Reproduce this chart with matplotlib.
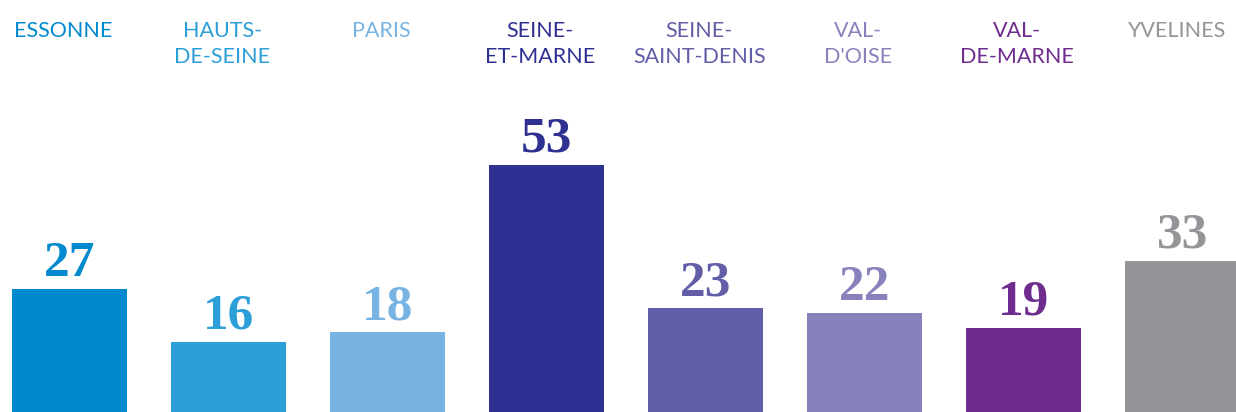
#!/usr/bin/env python3
"""departements_bars.py"""

import matplotlib.pyplot as plt
import numpy as np

departements = [
    "ESSONNE",
    "HAUTS-\nDE-SEINE",
    "PARIS",
    "SEINE-\nET-MARNE",
    "SEINE-\nSAINT-DENIS",
    "VAL-\nD'OISE",
    "VAL-\nDE-MARNE",
    "YVELINES",
]
valeurs = [27, 16, 18, 53, 23, 22, 19, 33]
couleurs = [
    "#0089cf",
    "#2d9fd8",
    "#78b4e3",
    "#2e3092",
    "#625ea8",
    "#8882bc",
    "#6f2c8f",
    "#939598",
]


def plot(ax: plt.Axes):
    x = np.arange(len(valeurs))
    ax.bar(x, valeurs, width=0.723, color=couleurs, zorder=2)

    for xi, v, c in zip(x, valeurs, couleurs):
        ax.annotate(
            str(v),
            (xi, v),
            xytext=(0, 9.4),
            textcoords="offset points",
            ha="center",
            va="baseline",
            fontsize=37,
            fontweight="bold",
            family="Liberation Serif",
            color=c,
        )

    for xi, lab, c in zip(x, departements, couleurs):
        ax.text(
            xi - 0.04,
            0.948,
            lab,
            transform=ax.get_xaxis_transform(),
            ha="center",
            va="top",
            fontsize=15.5,
            family="Lato",
            color=c,
            linespacing=1.37,
        )

    ax.set_xlim(-0.437, 7.336)
    ax.set_ylim(1.36, 87.5)
    ax.axis("off")


def main():
    fig = plt.figure(figsize=(12.36, 4.12), dpi=100)
    ax = fig.add_axes([0, 0, 1, 1])
    plot(ax)
    fig.savefig("out.png", dpi=100, facecolor="white")


if __name__ == "__main__":
    main()
